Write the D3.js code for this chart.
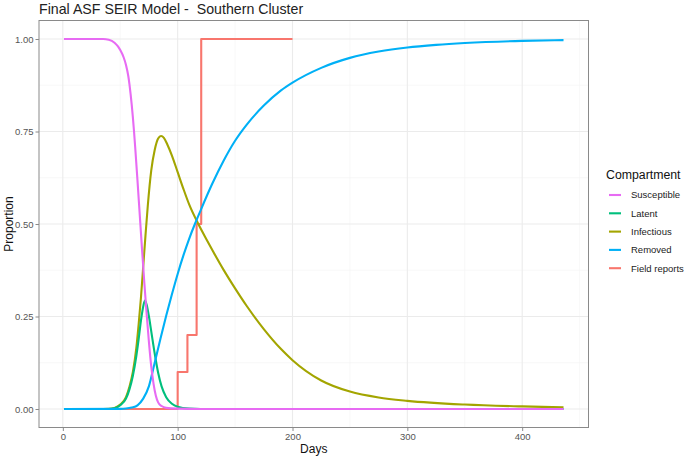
<!DOCTYPE html>
<html><head><meta charset="utf-8">
<script src="https://cdn.jsdelivr.net/npm/d3@7"></script>
<style>body{margin:0;background:#fff}svg{display:block}text{font-family:"Liberation Sans",Arial,sans-serif}</style>
</head><body><svg id="c" width="685" height="457"></svg>
<script>
// ---- data ----
const susDays = [1, 35, 40, 45, 48, 50, 53, 55, 57, 58, 59, 60, 61, 62, 63, 65, 67, 69, 71, 73, 75, 77, 79, 81, 83, 86, 90, 100, 120, 436];
const susVals = [1, 1, 0.998, 0.99, 0.98, 0.97, 0.95, 0.93, 0.9, 0.878, 0.852, 0.822, 0.788, 0.75, 0.708, 0.618, 0.524, 0.43, 0.34, 0.256, 0.18, 0.115, 0.068, 0.036, 0.018, 0.008, 0.003, 0.001, 0, 0];

const latDays = [1, 40, 45, 50, 55, 58, 61, 64, 66, 68, 70, 71.5, 73, 75, 77, 80, 83, 86, 90, 95, 100, 110, 120, 436];
const latVals = [0, 0, 0.002, 0.01, 0.028, 0.053, 0.09, 0.143, 0.188, 0.238, 0.277, 0.293, 0.282, 0.25, 0.21, 0.15, 0.098, 0.061, 0.032, 0.014, 0.006, 0.001, 0, 0];

const infDays = [1, 30, 40, 45, 50, 55, 58, 61, 64, 66, 68, 70, 72, 74, 77, 80, 83, 85.5, 88, 91, 95, 100, 105, 110, 118, 125, 131, 140, 150, 160, 175, 190, 200, 225, 250, 275, 300, 350, 400, 436];
const infVals = [0, 0, 0.0005, 0.003, 0.012, 0.032, 0.06, 0.1, 0.165, 0.228, 0.3, 0.385, 0.47, 0.55, 0.645, 0.7, 0.731, 0.738, 0.733, 0.715, 0.685, 0.64, 0.595, 0.553, 0.5, 0.459, 0.425, 0.376, 0.326, 0.279, 0.216, 0.162, 0.132, 0.077, 0.047, 0.031, 0.022, 0.012, 0.007, 0.0045];

const remDays = [1, 50, 55, 60, 65, 70, 75, 80, 85, 90, 95, 100, 105, 110, 115, 120, 130, 140, 150, 160, 175, 190, 200, 225, 250, 275, 300, 325, 350, 400, 436];
const remVals = [0, 0.0003, 0.0012, 0.004, 0.01, 0.028, 0.062, 0.125, 0.19, 0.252, 0.31, 0.365, 0.415, 0.46, 0.5, 0.537, 0.608, 0.671, 0.725, 0.768, 0.82, 0.861, 0.882, 0.922, 0.949, 0.966, 0.977, 0.984, 0.989, 0.995, 0.997];

const frDays = [1, 100, 108.5, 116.5, 120.5, 200];
const frVals = [0, 0.1, 0.2, 0.5, 1.0, 1.0];

const xTicks = [0, 100, 200, 300, 400];
const yTicks = [0, 0.25, 0.5, 0.75, 1];
const legendLabels = ["Susceptible", "Latent", "Infectious", "Removed", "Field reports"];
const legendColors = ["#E76BF3", "#00BF7D", "#A3A500", "#00B0F6", "#F8766D"];

// ---- layout ----
const svg = d3.select("#c");
const L = 39, R = 588.5, T = 20.5, B = 427.5;
const x = d3.scaleLinear().domain([-20.75, 457.75]).range([L, R]);
const y = d3.scaleLinear().domain([-0.05, 1.05]).range([B, T]);

const g = svg.append("g");
const xMinor = [50, 150, 250, 350, 450];
const yMinor = [0.125, 0.375, 0.625, 0.875];
g.selectAll(".xm").data(xMinor).join("line").attr("x1", d => x(d)).attr("x2", d => x(d)).attr("y1", T).attr("y2", B).attr("stroke", "#f3f3f3").attr("stroke-width", 0.6);
g.selectAll(".ym").data(yMinor).join("line").attr("y1", d => y(d)).attr("y2", d => y(d)).attr("x1", L).attr("x2", R).attr("stroke", "#f3f3f3").attr("stroke-width", 0.6);
g.selectAll(".xM").data(xTicks).join("line").attr("x1", d => x(d)).attr("x2", d => x(d)).attr("y1", T).attr("y2", B).attr("stroke", "#ebebeb").attr("stroke-width", 1.1);
g.selectAll(".yM").data(yTicks).join("line").attr("y1", d => y(d)).attr("y2", d => y(d)).attr("x1", L).attr("x2", R).attr("stroke", "#ebebeb").attr("stroke-width", 1.1);

const series = [
  {name: "Field reports", days: frDays, vals: frVals, color: "#F8766D", curve: d3.curveStepAfter},
  {name: "Infectious", days: infDays, vals: infVals, color: "#A3A500", curve: d3.curveMonotoneX},
  {name: "Latent", days: latDays, vals: latVals, color: "#00BF7D", curve: d3.curveMonotoneX},
  {name: "Removed", days: remDays, vals: remVals, color: "#00B0F6", curve: d3.curveMonotoneX},
  {name: "Susceptible", days: susDays, vals: susVals, color: "#E76BF3", curve: d3.curveMonotoneX}
];
series.forEach(s => {
  const pts = s.days.map((d, i) => [d, s.vals[i]]);
  const line = d3.line().x(d => x(d[0])).y(d => y(d[1])).curve(s.curve);
  g.append("path").attr("d", line(pts)).attr("fill", "none").attr("stroke", s.color).attr("stroke-width", 2.1).attr("stroke-linejoin", "round");
});

svg.append("rect").attr("x", L).attr("y", T).attr("width", R - L).attr("height", B - T).attr("fill", "none").attr("stroke", "#8a8a8a").attr("stroke-width", 1);

const xAxis = d3.axisBottom(x).tickValues(xTicks).tickSize(3.5).tickPadding(2).tickFormat(d3.format("d"));
const yAxis = d3.axisLeft(y).tickValues(yTicks).tickSize(3.5).tickPadding(2).tickFormat(d3.format(".2f"));
const ax = svg.append("g").attr("transform", `translate(0,${B})`).call(xAxis);
const ay = svg.append("g").attr("transform", `translate(${L},0)`).call(yAxis);
[ax, ay].forEach(a => {
  a.select(".domain").remove();
  a.selectAll(".tick line").attr("stroke", "#8a8a8a");
  a.selectAll(".tick text").attr("fill", "#555").style("font-size", "9.5px");
});

svg.append("text").attr("x", 39).attr("y", 13.5).style("font-size", "14.2px").attr("fill", "#222").attr("xml:space", "preserve").text("Final ASF SEIR Model -  Southern Cluster");
svg.append("text").attr("x", (L + R) / 2).attr("y", 453).attr("text-anchor", "middle").style("font-size", "12px").attr("fill", "#111").text("Days");
svg.append("text").attr("transform", `translate(13,${(T + B) / 2}) rotate(-90)`).attr("text-anchor", "middle").style("font-size", "12px").attr("fill", "#111").text("Proportion");

const lg = svg.append("g");
lg.append("text").attr("x", 606).attr("y", 179).style("font-size", "12.3px").attr("fill", "#111").text("Compartment");
legendLabels.forEach((lab, i) => {
  const yy = 195 + i * 18.3;
  lg.append("line").attr("x1", 609).attr("x2", 621).attr("y1", yy).attr("y2", yy).attr("stroke", legendColors[i]).attr("stroke-width", 2.1);
  lg.append("text").attr("x", 631).attr("y", yy + 3.3).style("font-size", "9.5px").attr("fill", "#222").text(lab);
});
</script></body></html>
